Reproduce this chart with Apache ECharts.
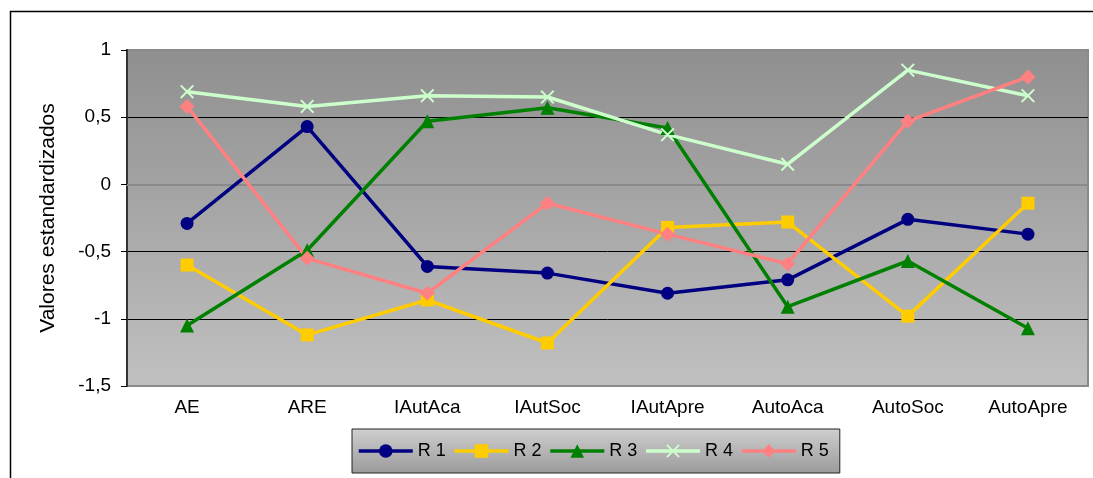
<!DOCTYPE html>
<html>
<head>
<meta charset="utf-8">
<script src="https://cdn.jsdelivr.net/npm/echarts@6/dist/echarts.min.js"></script>
<style>
  html, body { margin: 0; padding: 0; background: #fff; }
  #chart { width: 1093px; height: 478px; }
</style>
</head>
<body>
<div id="chart"></div>
<script>
const categories = ['AE', 'ARE', 'IAutAca', 'IAutSoc', 'IAutApre', 'AutoAca', 'AutoSoc', 'AutoApre'];
const seriesNames = ['R 1', 'R 2', 'R 3', 'R 4', 'R 5'];
const r1 = [-0.29, 0.43, -0.61, -0.66, -0.81, -0.71, -0.26, -0.37];
const r2 = [-0.60, -1.12, -0.86, -1.18, -0.32, -0.28, -0.98, -0.14];
const r3 = [-1.05, -0.49, 0.47, 0.57, 0.42, -0.91, -0.57, -1.07];
const r4 = [0.69, 0.58, 0.66, 0.65, 0.37, 0.15, 0.85, 0.66];
const r5 = [0.58, -0.55, -0.81, -0.14, -0.37, -0.59, 0.47, 0.80];
const yName = 'Valores estandardizados';

// colores y marcadores de cada serie
const colors = ['#000080', '#ffcc00', '#008000', '#ccffcc', '#ff8080'];
const crossPath = 'path://M1,0L5,4L9,0L10,1L6,5L10,9L9,10L5,6L1,10L0,9L4,5L0,1Z';
const symbols = ['circle', 'rect', 'triangle', crossPath, 'diamond'];
const symbolSizes = [13, 13, 14, 14, 15];
const values = [r1, r2, r3, r4, r5];

const font = 'Arial, "Liberation Sans", sans-serif';

const chart = echarts.init(document.getElementById('chart'));

const series = values.map((data, i) => ({
    name: seriesNames[i],
    type: 'line',
    data: data,
    symbol: symbols[i],
    symbolSize: symbolSizes[i],
    showAllSymbol: true,
    itemStyle: { color: colors[i] },
    lineStyle: { color: colors[i], width: 3.5 },
    emphasis: { disabled: true },
    animation: false
}));

const option = {
    animation: false,
    grid: {
        left: 127,
        top: 50,
        right: 5,
        bottom: 92,
        show: true,
        borderColor: '#8a8a8a',
        borderWidth: 2,
        backgroundColor: new echarts.graphic.LinearGradient(0, 0, 0, 1, [
            { offset: 0, color: '#8f8f8f' },
            { offset: 1, color: '#c0c0c0' }
        ])
    },
    legend: {
        left: 352,
        top: 429,
        padding: [13, 11, 13, 5],
        itemWidth: 54,
        itemHeight: 17,
        itemGap: 7,
        lineStyle: { width: 3.5 },
        backgroundColor: new echarts.graphic.LinearGradient(0, 0, 0, 1, [
            { offset: 0, color: '#cfcfcf' },
            { offset: 1, color: '#9a9a9a' }
        ]),
        borderColor: '#222',
        borderWidth: 1,
        textStyle: { fontFamily: font, fontSize: 18, color: '#000' },
        data: seriesNames
    },
    xAxis: {
        type: 'category',
        data: categories,
        boundaryGap: true,
        axisLine: { show: true, lineStyle: { color: '#8a8a8a', width: 2 } },
        axisTick: { show: false },
        axisLabel: { fontFamily: font, fontSize: 19, color: '#000', margin: 12 },
        splitLine: { show: false }
    },
    yAxis: {
        type: 'value',
        min: -1.5,
        max: 1,
        interval: 0.5,
        name: yName,
        nameLocation: 'middle',
        nameGap: 68,
        nameTextStyle: { fontFamily: font, fontSize: 21, color: '#000' },
        axisLine: { show: true, lineStyle: { color: '#333', width: 2 } },
        axisTick: { show: true, length: 6, lineStyle: { color: '#000', width: 1 } },
        axisLabel: {
            fontFamily: font,
            fontSize: 19,
            color: '#000',
            margin: 16,
            formatter: v => String(v).replace('.', ',')
        },
        splitLine: {
            show: true,
            lineStyle: { color: ['transparent', '#000', '#000', '#000', '#000', 'transparent'], width: 1 }
        }
    },
    graphic: [
        {
            type: 'rect',
            left: 8,
            top: 9,
            shape: { x: 0, y: 0, width: 1200, height: 600 },
            style: { fill: 'none', stroke: '#000', lineWidth: 1.5 },
            silent: true,
            z: 100
        }
    ],
    series: series
};

chart.setOption(option);
</script>
</body>
</html>
